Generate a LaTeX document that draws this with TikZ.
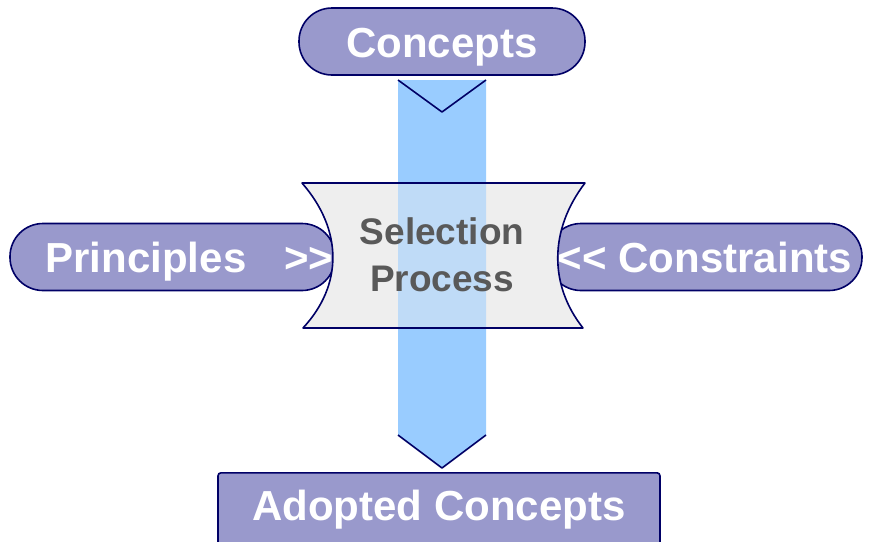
\documentclass[tikz,border=0pt]{standalone}
\usepackage{fontspec}
\setmainfont[Ligatures=TeXOff]{Liberation Sans}
\usetikzlibrary{positioning}

\definecolor{pill}{RGB}{153,153,204}
\definecolor{edge}{RGB}{0,0,102}
\definecolor{shaft}{RGB}{153,204,255}
\definecolor{boxgrey}{RGB}{238,238,238}
\definecolor{textgrey}{RGB}{89,89,89}

\tikzset{
  pillnode/.style={draw=edge, fill=pill, line width=1.6pt, rounded corners=33pt,
    minimum height=67pt, inner sep=0pt, text=white, text height=31pt, text depth=0pt,
    font=\fontsize{42}{46}\selectfont\bfseries},
  outline/.style={draw=edge, line width=1.6pt, line join=round}
}

\begin{document}
\begin{tikzpicture}[x=1pt, y=-1pt]
            % frame
            \clip (0,0) rectangle (873,541);

            % side inputs
            \node[pillnode, minimum width=325pt] (principles) at (172.5,257)
                {\hspace*{34pt}Principles\hspace{38pt}>\kern0pt>};
            \node[pillnode, minimum width=314pt] (constraints) at (705,257)
                {<\kern0pt< Constraints};

            % top and bottom
            \node[pillnode, minimum width=286pt] (concepts) at (442,41.5) {Concepts};
            \node[pillnode, rounded corners=3pt, minimum width=442pt, anchor=north,
                text height=46pt, text depth=40pt, inner ysep=2pt] (adopted) at (439,472)
                {Adopted Concepts};

            % shaft
            \def\shaftpath{(398,80) -- (486,80) -- (486,435) -- (442,468) -- (398,435) -- cycle}
            \fill[shaft] \shaftpath;

            % selection box
            \def\selpath{(302,183) -- (585,183) .. controls (549,230) and (549,285) .. (583,328)
                -- (303,328) .. controls (343,285) and (343,230) .. (302,183) -- cycle}
            \fill[boxgrey] \selpath;
            \begin{scope}
                \clip \selpath;
                \fill[shaft, opacity=0.55] \shaftpath;
            \end{scope}
            \draw[outline] \selpath;

            % chevrons
            \draw[outline] (398,80) -- (442,112) -- (486,80);
            \draw[outline] (398,435) -- (442,468) -- (486,435);

            \node[align=center, text=textgrey, font=\fontsize{37}{47}\selectfont\bfseries]
                (selection) at (442,255) {Selection\\Process};

\end{tikzpicture}
\end{document}
